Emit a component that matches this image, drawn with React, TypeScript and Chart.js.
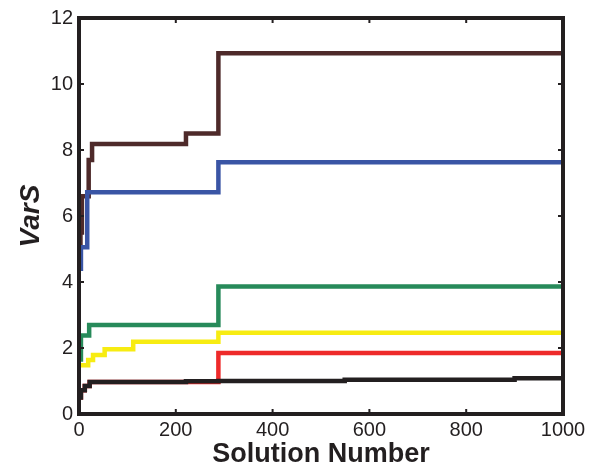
import React, { useEffect, useRef } from "react";
import { Chart, registerables } from "chart.js";

Chart.register(...registerables);

const xTicks = [0, 200, 400, 600, 800, 1000];
const yTicks = [0, 2, 4, 6, 8, 10, 12];

const brownX = [0, 3, 6, 17, 20, 27, 221, 288, 1000];
const brownY = [4.9, 5.5, 6.6, 6.6, 7.7, 8.18, 8.5, 10.93, 10.93];

const blueX = [0, 4, 17, 288, 1000];
const blueY = [4.4, 5.05, 6.72, 7.63, 7.63];

const greenX = [0, 4, 21, 288, 1000];
const greenY = [1.65, 2.38, 2.7, 3.86, 3.86];

const yellowX = [0, 19, 29, 53, 112, 288, 1000];
const yellowY = [1.48, 1.64, 1.79, 1.96, 2.19, 2.46, 2.46];

const redX = [0, 4, 12, 22, 288, 1000];
const redY = [0.5, 0.72, 0.85, 0.97, 1.85, 1.85];

const blackX = [0, 4, 12, 22, 221, 288, 549, 900, 1000];
const blackY = [0.5, 0.72, 0.85, 0.97, 0.99, 1.0, 1.04, 1.08, 1.08];

const toPts = (xs: number[], ys: number[]) => xs.map((x, i) => ({ x, y: ys[i] }));

const FONT = "'Liberation Sans', Arial, Helvetica, sans-serif";

const framePlugin = {
  id: "frame",
  afterDatasetsDraw(chart: any) {
    const { ctx, chartArea, scales } = chart;
    const { left, right, top, bottom } = chartArea;
    ctx.save();
    ctx.strokeStyle = "#231f20";
    ctx.lineWidth = 4;
    ctx.beginPath();
    ctx.rect(left, top, right - left, bottom - top);
    ctx.stroke();
    ctx.lineWidth = 2;
    const tl = 5;
    ctx.beginPath();
    xTicks.forEach((v) => {
      const px = scales.x.getPixelForValue(v);
      ctx.moveTo(px, bottom);
      ctx.lineTo(px, bottom - tl);
      ctx.moveTo(px, top);
      ctx.lineTo(px, top + tl);
    });
    yTicks.forEach((v) => {
      const py = scales.y.getPixelForValue(v);
      ctx.moveTo(left, py);
      ctx.lineTo(left + tl, py);
      ctx.moveTo(right, py);
      ctx.lineTo(right - tl, py);
    });
    ctx.stroke();
    ctx.restore();
  },
};

export default function App() {
  const ref = useRef<HTMLCanvasElement>(null);
  useEffect(() => {
    document.body.style.margin = "0";
    const mk = (label: string, xs: number[], ys: number[], color: string) => ({
      label,
      data: toPts(xs, ys),
      borderColor: color,
      backgroundColor: color,
      borderWidth: 4.5,
      pointRadius: 0,
      stepped: "before" as const,
      fill: false,
      borderJoinStyle: "miter" as const,
    });
    const chart = new Chart(ref.current!, {
      type: "line",
      data: {
        datasets: [
          mk("black", blackX, blackY, "#231f20"),
          mk("red", redX, redY, "#ee2a2a"),
          mk("yellow", yellowX, yellowY, "#f7ec12"),
          mk("green", greenX, greenY, "#278a5a"),
          mk("blue", blueX, blueY, "#3a55a5"),
          mk("brown", brownX, brownY, "#4e2a2a"),
        ],
      },
      options: {
        animation: false,
        responsive: false,
        maintainAspectRatio: false,
        layout: { padding: { top: 15, right: 27, left: 0, bottom: 0 } },
        plugins: { legend: { display: false }, tooltip: { enabled: false } },
        scales: {
          x: {
            type: "linear",
            min: 0,
            max: 1000,
            afterBuildTicks: (s: any) => {
              s.ticks = xTicks.map((v) => ({ value: v }));
            },
            afterFit: (s: any) => {
              s.height = 57;
            },
            grid: { display: false, drawTicks: false },
            border: { display: false },
            ticks: {
              color: "#231f20",
              font: { family: FONT, size: 20 },
              padding: 4,
              maxRotation: 0,
              autoSkip: false,
              callback: (v: any) => String(v),
            },
            title: {
              display: true,
              text: "Solution Number",
              color: "#231f20",
              font: { family: FONT, size: 27, weight: "bold" },
              padding: { top: 0, bottom: 0 },
            },
          },
          y: {
            type: "linear",
            min: 0,
            max: 12,
            afterBuildTicks: (s: any) => {
              s.ticks = yTicks.map((v) => ({ value: v }));
            },
            afterFit: (s: any) => {
              s.width = 79;
            },
            grid: { display: false, drawTicks: false },
            border: { display: false },
            ticks: {
              color: "#231f20",
              font: { family: FONT, size: 20 },
              padding: 6,
              autoSkip: false,
              callback: (v: any) => String(v),
            },
            title: {
              display: true,
              text: "VarS",
              color: "#231f20",
              font: { family: FONT, size: 28, weight: "bold", style: "italic" },
              padding: { top: 14, bottom: 0 },
            },
          },
        },
      },
      plugins: [framePlugin],
    });
    return () => chart.destroy();
  }, []);
  return (
    <div style={{ position: "absolute", left: 0, top: 0, width: 590, height: 471, background: "#fff" }}>
      <canvas ref={ref} width={590} height={471} style={{ width: 590, height: 471 }} />
    </div>
  );
}
